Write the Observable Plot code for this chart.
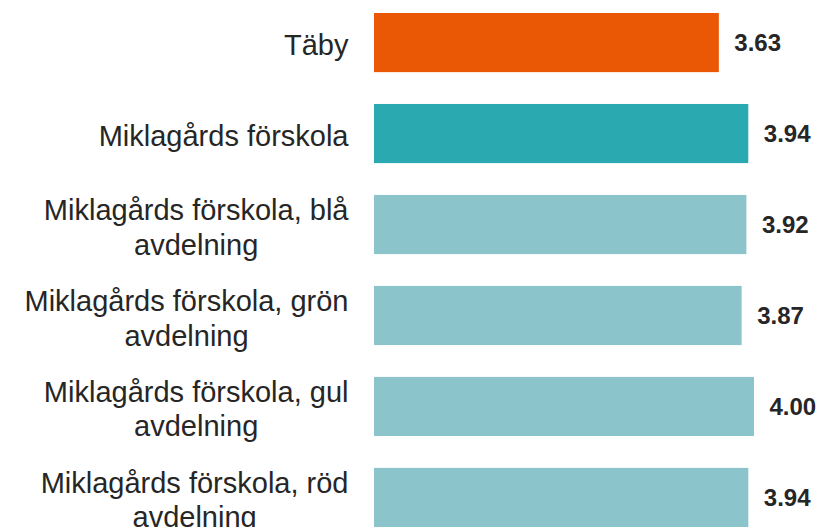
<!DOCTYPE html>
<html>
<head>
<meta charset="utf-8">
<script src="https://cdn.jsdelivr.net/npm/d3@7"></script>
<script src="https://cdn.jsdelivr.net/npm/@observablehq/plot@0.6"></script>
<style>
  html, body { margin: 0; padding: 0; background: #fff; }
  #chart svg { display: block; }
</style>
</head>
<body>
<div id="chart"></div>
<script>
const categories = [
  "Täby",
  "Miklagårds förskola",
  "Miklagårds förskola, blå\navdelning",
  "Miklagårds förskola, grön\navdelning",
  "Miklagårds förskola, gul\navdelning",
  "Miklagårds förskola, röd\navdelning"
];
const values = [3.63, 3.94, 3.92, 3.87, 4.00, 3.94];
const levels = ["Kommun", "Förskola", "Avdelning", "Avdelning", "Avdelning", "Avdelning"];

const data = categories.map((c, i) => ({ category: c, value: values[i], level: levels[i] }));

const chart = Plot.plot({
  width: 820,
  height: 527,
  margin: 0,
  style: { fontFamily: "'Liberation Sans', Arial, sans-serif", background: "#fff" },
  x: { domain: [0, 4], range: [374, 754], axis: null },
  y: { domain: categories, range: [13, 527], paddingInner: 0.35, paddingOuter: 0, round: false, axis: null },
  color: {
    domain: ["Kommun", "Förskola", "Avdelning"],
    range: ["#EA5806", "#2AA9B0", "#8CC4CC"]
  },
  marks: [
    Plot.barX(data, { x: "value", y: "category", fill: "level" }),
    Plot.text(data, {
      x: "value", y: "category", text: d => d.value.toFixed(2),
      textAnchor: "start", dx: 15, fontSize: 24, fontWeight: "bold", fill: "#262626"
    }),
    Plot.text(data, {
      x: 0, y: "category", text: "category",
      textAnchor: "end", dx: -26, dy: 1, fontSize: 29, lineHeight: 1.2, fill: "#262626",
      className: "cat-labels"
    })
  ]
});

document.getElementById("chart").appendChild(chart);

// Centre the lines of each multi-line category label within its right-aligned block
chart.querySelectorAll(".cat-labels text").forEach(t => {
  const spans = t.querySelectorAll("tspan");
  if (spans.length < 2) return;
  let max = 0;
  spans.forEach(s => { max = Math.max(max, s.getComputedTextLength()); });
  t.setAttribute("text-anchor", "middle");
  spans.forEach(s => s.setAttribute("x", -max / 2));
});
</script>
</body>
</html>
